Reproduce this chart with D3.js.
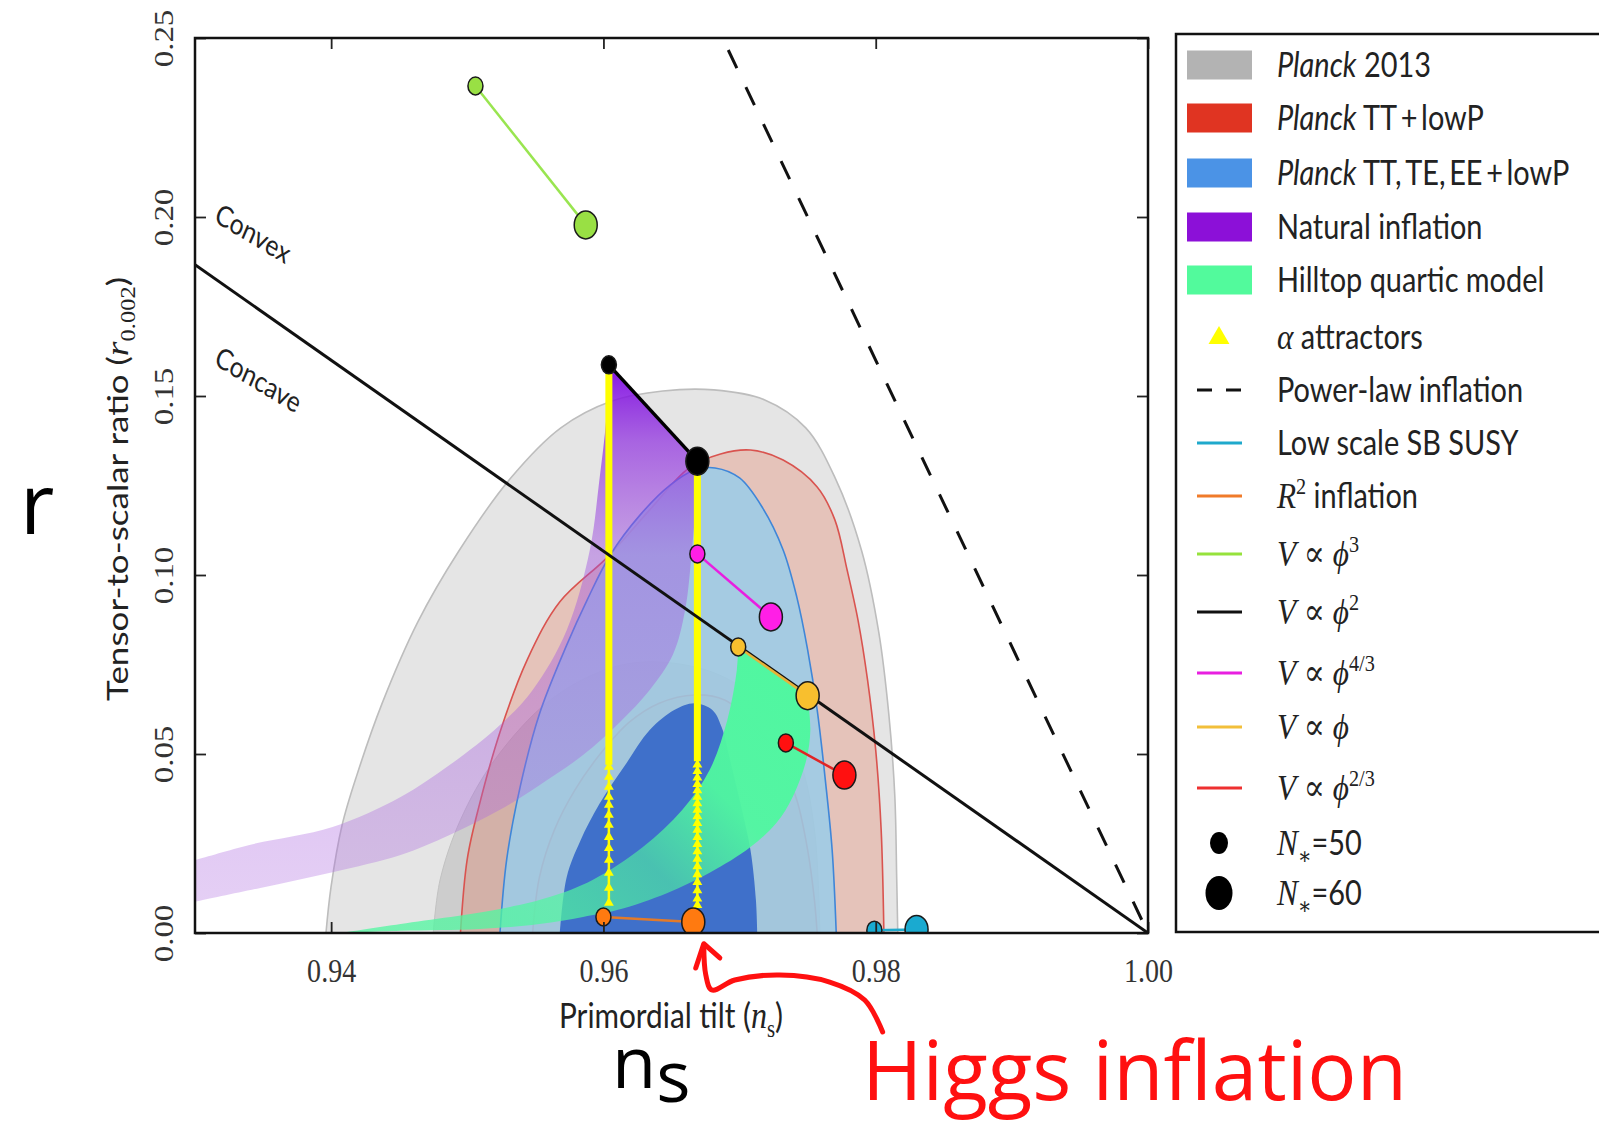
<!DOCTYPE html>
<html>
<head>
<meta charset="utf-8">
<script src="https://cdn.jsdelivr.net/npm/d3@7"></script>
<style>
  body { margin: 0; background: #fff; }
  svg { display: block; }
</style>
</head>
<body>
<svg id="chart" width="1599" height="1126"></svg>
<script>
// ---------- data (ns, r) ----------
const xTicks = [0.94, 0.96, 0.98, 1.0];
const yTicks = [0, 0.05, 0.10, 0.15, 0.20, 0.25];

const planck13Outer = [[0.93962,0],[0.93999,0.0128],[0.94079,0.0299],[0.94189,0.0441],[0.94373,0.0640],[0.94637,0.0869],[0.94938,0.1067],[0.95313,0.1268],[0.95687,0.1411],[0.96062,0.1486],[0.96436,0.1514],[0.96811,0.1517],[0.97185,0.1489],[0.97486,0.1411],[0.97706,0.1268],[0.97897,0.1067],[0.98022,0.0841],[0.98096,0.0612],[0.98140,0.0385],[0.98154,0.0156],[0.98162,0]];
const planck13Inner = [[0.9475,0],[0.9480,0.0148],[0.9495,0.0316],[0.9520,0.0483],[0.9561,0.0651],[0.9605,0.0740],[0.9641,0.0757],[0.9685,0.0721],[0.9722,0.0623],[0.9744,0.0483],[0.9755,0.0288],[0.9759,0]];
const ttOuter = [[0.9495,0],[0.9500,0.0207],[0.9509,0.0360],[0.9524,0.0561],[0.9544,0.0763],[0.9568,0.0925],[0.9603,0.1050],[0.9634,0.1182],[0.9663,0.1299],[0.9686,0.1338],[0.9708,0.1349],[0.9732,0.1321],[0.9757,0.1246],[0.9770,0.1154],[0.9779,0.1014],[0.9787,0.0874],[0.9794,0.0707],[0.9800,0.0511],[0.9804,0.0288],[0.9806,0]];
const ttInner = [[0.9548,0],[0.9553,0.0156],[0.9564,0.0288],[0.9579,0.0399],[0.9597,0.0497],[0.9619,0.0589],[0.9641,0.0642],[0.9667,0.0665],[0.9689,0.0651],[0.9711,0.0581],[0.9730,0.0483],[0.9742,0.0372],[0.9750,0.0232],[0.9755,0.0092],[0.9757,0]];
const ttteeeOuter = [[0.9524,0],[0.9529,0.0207],[0.9539,0.0411],[0.9553,0.0612],[0.9573,0.0804],[0.9588,0.0930],[0.9605,0.1056],[0.9627,0.1168],[0.9649,0.1251],[0.9667,0.1293],[0.9682,0.1299],[0.9700,0.1271],[0.9717,0.1187],[0.9732,0.1070],[0.9742,0.0939],[0.9750,0.0791],[0.9757,0.0623],[0.9763,0.0427],[0.9768,0.0232],[0.9771,0]];
const ttteeeInner = [[0.9568,0],[0.9573,0.0156],[0.9583,0.0257],[0.9597,0.0360],[0.9616,0.0469],[0.9634,0.0567],[0.9652,0.0623],[0.9667,0.0642],[0.9680,0.0623],[0.9687,0.0573],[0.9693,0.0483],[0.9700,0.0372],[0.9708,0.0232],[0.9712,0.0092],[0.9713,0]];

const naturalUpper = [[0.9293,0.0198],[0.9300,0.0204],[0.9340,0.0246],[0.9401,0.0296],[0.9451,0.0380],[0.9487,0.0469],[0.9524,0.0581],[0.9548,0.0679],[0.9573,0.0846],[0.9590,0.1070],[0.9597,0.1265],[0.9602,0.1433],[0.9604,0.1587]];
const naturalLower = [[0.9669,0.1318],[0.9668,0.1209],[0.9665,0.1070],[0.9660,0.0902],[0.9651,0.0777],[0.9634,0.0679],[0.9612,0.0589],[0.9585,0.0497],[0.9553,0.0413],[0.9524,0.0344],[0.9487,0.0274],[0.9451,0.0218],[0.9401,0.0170],[0.9348,0.0126],[0.9300,0.0087],[0.9293,0.0081]];

const hilltopLower = [[0.9750,0.0663],[0.9752,0.0567],[0.9749,0.0483],[0.9739,0.0380],[0.9727,0.0307],[0.9708,0.0240],[0.9678,0.0168],[0.9647,0.0112],[0.9610,0.0064],[0.9585,0.0045],[0.9553,0.0025],[0.9509,0.0011],[0.9451,0.0006],[0.9407,0]];
const hilltopUpper = [[0.9407,0],[0.9451,0.0025],[0.9524,0.0067],[0.9561,0.0101],[0.9592,0.0148],[0.9629,0.0240],[0.9658,0.0344],[0.9678,0.0455],[0.9691,0.0595],[0.9698,0.0735],[0.9699,0.0799]];

// single-field models: [N*=50, N*=60]
const phi3  = [[0.9506,0.2366],[0.9587,0.1978]];
const phi2  = [[0.9604,0.1587],[0.9669,0.1318]];
const phi43 = [[0.9669,0.1059],[0.9723,0.0883]];
const phi1  = [[0.9699,0.0799],[0.9750,0.0663]];
const phi23 = [[0.9734,0.0531],[0.9777,0.0441]];
const r2    = [[0.9600,0.0045],[0.9666,0.0031]];
const sbSusy = [[0.9799,0.0008],[0.9830,0.0010]];

// alpha attractors: dense part and resolved markers
const alphaLeftDense  = [[0.9604,0.1587],[0.9604,0.047]];
const alphaLeftMarks  = [0.0464,0.0436,0.0408,0.0380,0.0358,0.0330,0.0302,0.0268,0.0237,0.0204,0.0168,0.0126,0.0084];
const alphaRightDense = [[0.9669,0.1318],[0.9669,0.048]];
const alphaRightMarks = [0.0470,0.0452,0.0434,0.0416,0.0398,0.0380,0.0362,0.0344,0.0326,0.0307,0.0288,0.0268,0.0248,0.0228,0.0207,0.0186,0.0164,0.0142,0.0119,0.0096,0.0078];

const convexLine = [[0.93,0.18667],[1.0,0]];
const powerLawLine = [[0.96875,0.25],[1.0,0]];

const higgsArrow = [[0.98051,-0.02765],[0.97919,-0.01872],[0.97662,-0.01369],[0.97295,-0.01173],[0.96965,-0.01313],[0.96796,-0.01592],[0.96752,-0.01173],[0.96737,-0.00335]];
const higgsArrowHead = [[0.96678,-0.00978],[0.96737,-0.00300],[0.96855,-0.00698]];

const legendLabels = [
  [["Planck","sit"],[" 2013","s"]],
  [["Planck","sit"],[" TT\u2009+\u2009lowP","s"]],
  [["Planck","sit"],[" TT,\u2009TE,\u2009EE\u2009+\u2009lowP","s"]],
  [["Natural inflation","s"]],
  [["Hilltop quartic model","s"]],
  [["α","mi"],[" attractors","s"]],
  [["Power-law inflation","s"]],
  [["Low scale SB SUSY","s"]],
  [["R","mi"],["2","sup"],[" inflation","s"]],
  [["V","mi"],[" ∝ ","mr"],["ϕ","mi"],["3","sup"]],
  [["V","mi"],[" ∝ ","mr"],["ϕ","mi"],["2","sup"]],
  [["V","mi"],[" ∝ ","mr"],["ϕ","mi"],["4/3","sup"]],
  [["V","mi"],[" ∝ ","mr"],["ϕ","mi"]],
  [["V","mi"],[" ∝ ","mr"],["ϕ","mi"],["2/3","sup"]],
  [["N","mi"],["∗","sub"],["=50","s"]],
  [["N","mi"],["∗","sub"],["=60","s"]]
];

// ---------- styles / layout ----------
const SANS = "Lato, 'Open Sans', sans-serif";
const SERIF = "'Liberation Serif', 'DejaVu Serif', serif";
const HAND = "'Open Sans', 'Noto Sans', sans-serif";
const SQ = 0.85;
const legendKeys = [
  {kind:"rect", color:"#b3b3b3"}, {kind:"rect", color:"#e03422"}, {kind:"rect", color:"#4b93e6"},
  {kind:"rect", color:"#8c10d8"}, {kind:"rect", color:"#52fa9c"}, {kind:"tri", color:"#ffff00"},
  {kind:"dash", color:"#111"}, {kind:"line", color:"#1fa9cc"}, {kind:"line", color:"#f07b2a"},
  {kind:"line", color:"#96e23c"}, {kind:"line", color:"#111"}, {kind:"line", color:"#e81fe0"},
  {kind:"line", color:"#f2bf3a"}, {kind:"line", color:"#ee3030"}, {kind:"dot", rx:9, ry:11},
  {kind:"dot", rx:13.5, ry:17}
];
const legendRowY = [65,118,173,227,280,337,390,443,496,554,612,673,727,788,843,893];

const svg = d3.select("#chart");
const x = d3.scaleLinear().domain([0.93, 1.0]).range([195, 1148]);
const y = d3.scaleLinear().domain([0, 0.25]).range([933, 38]);

const defs = svg.append("defs");
defs.append("clipPath").attr("id", "plotclip").append("rect")
  .attr("x", x(0.93)).attr("y", y(0.25))
  .attr("width", x(1.0) - x(0.93)).attr("height", y(0) - y(0.25));

const natGrad = defs.append("linearGradient").attr("id", "natGrad")
  .attr("gradientUnits", "userSpaceOnUse")
  .attr("x1", 0).attr("y1", y(0.16)).attr("x2", 0).attr("y2", y(0.0));
[[0, "#7a00e0", 0.95], [0.14, "#9030e0", 0.72], [0.34, "#a050e0", 0.45], [1, "#b070e0", 0.32]]
  .forEach(s => natGrad.append("stop").attr("offset", s[0]).attr("stop-color", s[1]).attr("stop-opacity", s[2]));

const hillGrad = defs.append("linearGradient").attr("id", "hillGrad")
  .attr("gradientUnits", "userSpaceOnUse")
  .attr("x1", x(0.975)).attr("y1", y(0.075)).attr("x2", x(0.955)).attr("y2", y(0.0));
[[0, 1], [0.4, 0.95], [0.66, 0.6], [1, 0.75]]
  .forEach(s => hillGrad.append("stop").attr("offset", s[0]).attr("stop-color", "#50f7a0").attr("stop-opacity", s[1]));

const plot = svg.append("g").attr("clip-path", "url(#plotclip)");

const openCurve = d3.line().x(d => x(d[0])).y(d => y(d[1])).curve(d3.curveCatmullRom.alpha(0.5));
const straight = d3.line().x(d => x(d[0])).y(d => y(d[1]));

function contour(pts, fill, op, stroke, sw) {
  plot.append("path")
    .attr("d", openCurve(pts) + "Z")
    .attr("fill", fill).attr("fill-opacity", op)
    .attr("stroke", stroke || "none").attr("stroke-width", sw || 0);
}

contour(planck13Outer, "#e5e5e5", 1, "#bdbdbd", 1.6);
contour(planck13Inner, "#cdcdcd", 1, "#c2c2c2", 1);
contour(ttOuter, "#e8603c", 0.25, "#d9534f", 1.6);
contour(ttInner, "#e8603c", 0.18, "#d65a55", 1.6);
contour(ttteeeOuter, "#9acce9", 0.85, "#3f86d8", 1.6);
contour(ttteeeInner, "#3a6cc9", 0.96, "none", 0);

// natural inflation band
plot.append("path")
  .attr("d", openCurve(naturalUpper) + openCurve(naturalLower).replace(/^M/, "L") + "Z")
  .attr("fill", "url(#natGrad)");

// hilltop quartic band
plot.append("path")
  .attr("d", openCurve(hilltopLower) + openCurve(hilltopUpper).replace(/^M/, "L") + "Z")
  .attr("fill", "url(#hillGrad)");

// alpha attractors
const triangle = d3.symbol().type(d3.symbolTriangle).size(42);
[[alphaLeftDense, alphaLeftMarks], [alphaRightDense, alphaRightMarks]].forEach(([dense, marks]) => {
  const ns = dense[0][0];
  plot.append("path").attr("d", straight([dense[1], [ns, marks[marks.length - 1]]]))
    .attr("stroke", "#ffff00").attr("stroke-width", 2.5).attr("fill", "none");
  plot.append("path").attr("d", straight(dense))
    .attr("stroke", "#ffff00").attr("stroke-width", 7).attr("fill", "none");
  plot.selectAll(null).data(marks).enter().append("path")
    .attr("d", triangle)
    .attr("transform", d => `translate(${x(ns)},${y(d)})`)
    .attr("fill", "#ffff00");
});

// consistency lines
plot.append("path").attr("d", straight(convexLine))
  .attr("stroke", "#111").attr("stroke-width", 3).attr("fill", "none");
plot.append("path").attr("d", straight(powerLawLine))
  .attr("stroke", "#111").attr("stroke-width", 3).attr("fill", "none")
  .attr("stroke-dasharray", "20,21").attr("stroke-dashoffset", 27.7);

// models
const models = [
  {pts: phi3, color: "#99e044", line: "#99e550", w: 2.5},
  {pts: phi2, color: "#000", line: "#000", w: 3.5},
  {pts: phi43, color: "#ff1fe6", line: "#e81fe0", w: 2.5},
  {pts: phi1, color: "#f8bf2e", line: "#e6b23a", w: 2.5},
  {pts: phi23, color: "#ff1010", line: "#e02525", w: 2.5},
  {pts: r2, color: "#ff7a10", line: "#e27a2a", w: 2.5},
  {pts: sbSusy, color: "#1aaad0", line: "#1fa9cc", w: 2.5}
];
models.forEach(m => {
  plot.append("path").attr("d", straight(m.pts))
    .attr("stroke", m.line).attr("stroke-width", m.w).attr("fill", "none");
});
models.forEach(m => {
  plot.selectAll(null).data(m.pts).enter().append("ellipse")
    .attr("cx", d => x(d[0])).attr("cy", d => y(d[1]))
    .attr("rx", (d, i) => i === 0 ? 7.5 : 11.5)
    .attr("ry", (d, i) => i === 0 ? 9 : 14)
    .attr("fill", m.color).attr("stroke", "#1a1a1a").attr("stroke-width", 1.5);
});

// ---------- axes ----------
function styleTicks(g) {
  g.select(".domain").remove();
  g.selectAll(".tick line").attr("stroke", "#222").attr("stroke-width", 1.8);
}
const gx = svg.append("g").attr("transform", `translate(0,${y(0)})`)
  .call(d3.axisBottom(x).tickValues(xTicks).tickFormat(d3.format(".2f")).tickSize(-11).tickSizeOuter(0));
styleTicks(gx);
gx.selectAll("text").attr("y", null).attr("dy", null)
  .attr("transform", `translate(0,49) scale(${SQ},1)`)
  .attr("font-family", SERIF).attr("font-size", 33).attr("fill", "#333");

const gy = svg.append("g").attr("transform", `translate(${x(0.93)},0)`)
  .call(d3.axisLeft(y).tickValues(yTicks).tickFormat(d3.format(".2f")).tickSize(-11).tickSizeOuter(0));
styleTicks(gy);
gy.selectAll("text").attr("x", null).attr("dy", null).attr("text-anchor", "middle")
  .attr("transform", `translate(-22,0) scale(${SQ},1) rotate(-90)`)
  .attr("font-family", SERIF).attr("font-size", 33).attr("fill", "#333");

const gt = svg.append("g").attr("transform", `translate(0,${y(0.25)})`)
  .call(d3.axisTop(x).tickValues(xTicks).tickFormat("").tickSize(-11).tickSizeOuter(0));
styleTicks(gt);
const gr = svg.append("g").attr("transform", `translate(${x(1.0)},0)`)
  .call(d3.axisRight(y).tickValues(yTicks).tickFormat("").tickSize(-11).tickSizeOuter(0));
styleTicks(gr);

svg.append("rect")
  .attr("x", x(0.93)).attr("y", y(0.25))
  .attr("width", x(1.0) - x(0.93)).attr("height", y(0) - y(0.25))
  .attr("fill", "none").attr("stroke", "#111").attr("stroke-width", 2.5);

// ---------- rich text helper ----------
function rich(textSel, parts, fs) {
  let shift = 0;
  parts.forEach(([s, st]) => {
    const ts = textSel.append("tspan").text(s);
    let target = 0;
    if (st === "s") ts.attr("font-family", SANS).attr("font-size", fs);
    if (st === "sit") ts.attr("font-family", SANS).attr("font-size", fs).attr("font-style", "italic");
    if (st === "mi") ts.attr("font-family", SERIF).attr("font-size", fs * 1.08).attr("font-style", "italic");
    if (st === "mr") ts.attr("font-family", SERIF).attr("font-size", fs * 1.08);
    if (st === "sup") { ts.attr("font-family", SERIF).attr("font-size", fs * 0.7); target = -0.42 * fs; }
    if (st === "sub") { ts.attr("font-family", SERIF).attr("font-size", fs * 0.7); target = 0.25 * fs; }
    ts.attr("dy", target - shift);
    shift = target;
  });
}

// axis titles
const xl = svg.append("text").attr("text-anchor", "middle").attr("fill", "#222")
  .attr("transform", `translate(671,1028) scale(${SQ},1)`);
rich(xl, [["Primordial tilt (", "s"], ["n", "mi"], ["s", "sub"], [")", "s"]], 35);

const yl = svg.append("text").attr("text-anchor", "middle").attr("fill", "#222")
  .attr("transform", `translate(128,489) scale(${SQ},1) rotate(-90)`);
rich(yl, [["Tensor-to-scalar ratio (", "s"], ["r", "mi"], ["0.002", "sub"], [")", "s"]], 35);

// convex / concave labels
[["Convex", 213, 221], ["Concave", 213, 364]].forEach(([t, px, py]) => {
  svg.append("text").text(t)
    .attr("transform", `translate(${px},${py}) scale(${SQ},1) rotate(27)`)
    .attr("font-family", SANS).attr("font-size", 29).attr("fill", "#222");
});

// ---------- legend ----------
const lg = svg.append("g");
lg.append("rect").attr("x", 1176).attr("y", 34).attr("width", 480).attr("height", 898)
  .attr("fill", "#fff").attr("stroke", "#111").attr("stroke-width", 2.5);
legendKeys.forEach((k, i) => {
  const cy = legendRowY[i];
  if (k.kind === "rect") {
    lg.append("rect").attr("x", 1187).attr("y", cy - 14.5).attr("width", 65).attr("height", 29).attr("fill", k.color);
  } else if (k.kind === "tri") {
    lg.append("path").attr("d", d3.symbol().type(d3.symbolTriangle).size(190)())
      .attr("transform", `translate(1219,${cy + 1})`).attr("fill", k.color);
  } else if (k.kind === "dash") {
    lg.append("line").attr("x1", 1197).attr("x2", 1242).attr("y1", cy).attr("y2", cy)
      .attr("stroke", k.color).attr("stroke-width", 3).attr("stroke-dasharray", "15,14");
  } else if (k.kind === "line") {
    lg.append("line").attr("x1", 1197).attr("x2", 1242).attr("y1", cy).attr("y2", cy)
      .attr("stroke", k.color).attr("stroke-width", 3);
  } else if (k.kind === "dot") {
    lg.append("ellipse").attr("cx", 1219).attr("cy", cy).attr("rx", k.rx).attr("ry", k.ry).attr("fill", "#000");
  }
  const t = lg.append("text").attr("fill", "#222")
    .attr("transform", `translate(1277,${cy + 12}) scale(${SQ},1)`);
  rich(t, legendLabels[i], 34);
});

// ---------- hand-written annotations ----------
svg.append("text").text("r")
  .attr("x", 20).attr("y", 534)
  .attr("font-family", HAND).attr("font-weight", 400).attr("font-size", 84)
  .attr("fill", "#000");
const ns = svg.append("text").attr("x", 612).attr("y", 1088)
  .attr("font-family", HAND).attr("font-weight", 400).attr("font-size", 72)
  .attr("fill", "#000");
ns.append("tspan").text("n");
ns.append("tspan").text("s").attr("dy", 14);

svg.append("text").text("Higgs inflation")
  .attr("x", 862).attr("y", 1100)
  .attr("font-family", HAND).attr("font-weight", 400).attr("font-size", 82)
  .attr("fill", "#ff1010");
svg.append("path").attr("d", openCurve(higgsArrow))
  .attr("fill", "none").attr("stroke", "#ff1010").attr("stroke-width", 5).attr("stroke-linecap", "round");
svg.append("path").attr("d", straight(higgsArrowHead))
  .attr("fill", "none").attr("stroke", "#ff1010").attr("stroke-width", 5)
  .attr("stroke-linecap", "round").attr("stroke-linejoin", "round");
</script>
</body>
</html>
